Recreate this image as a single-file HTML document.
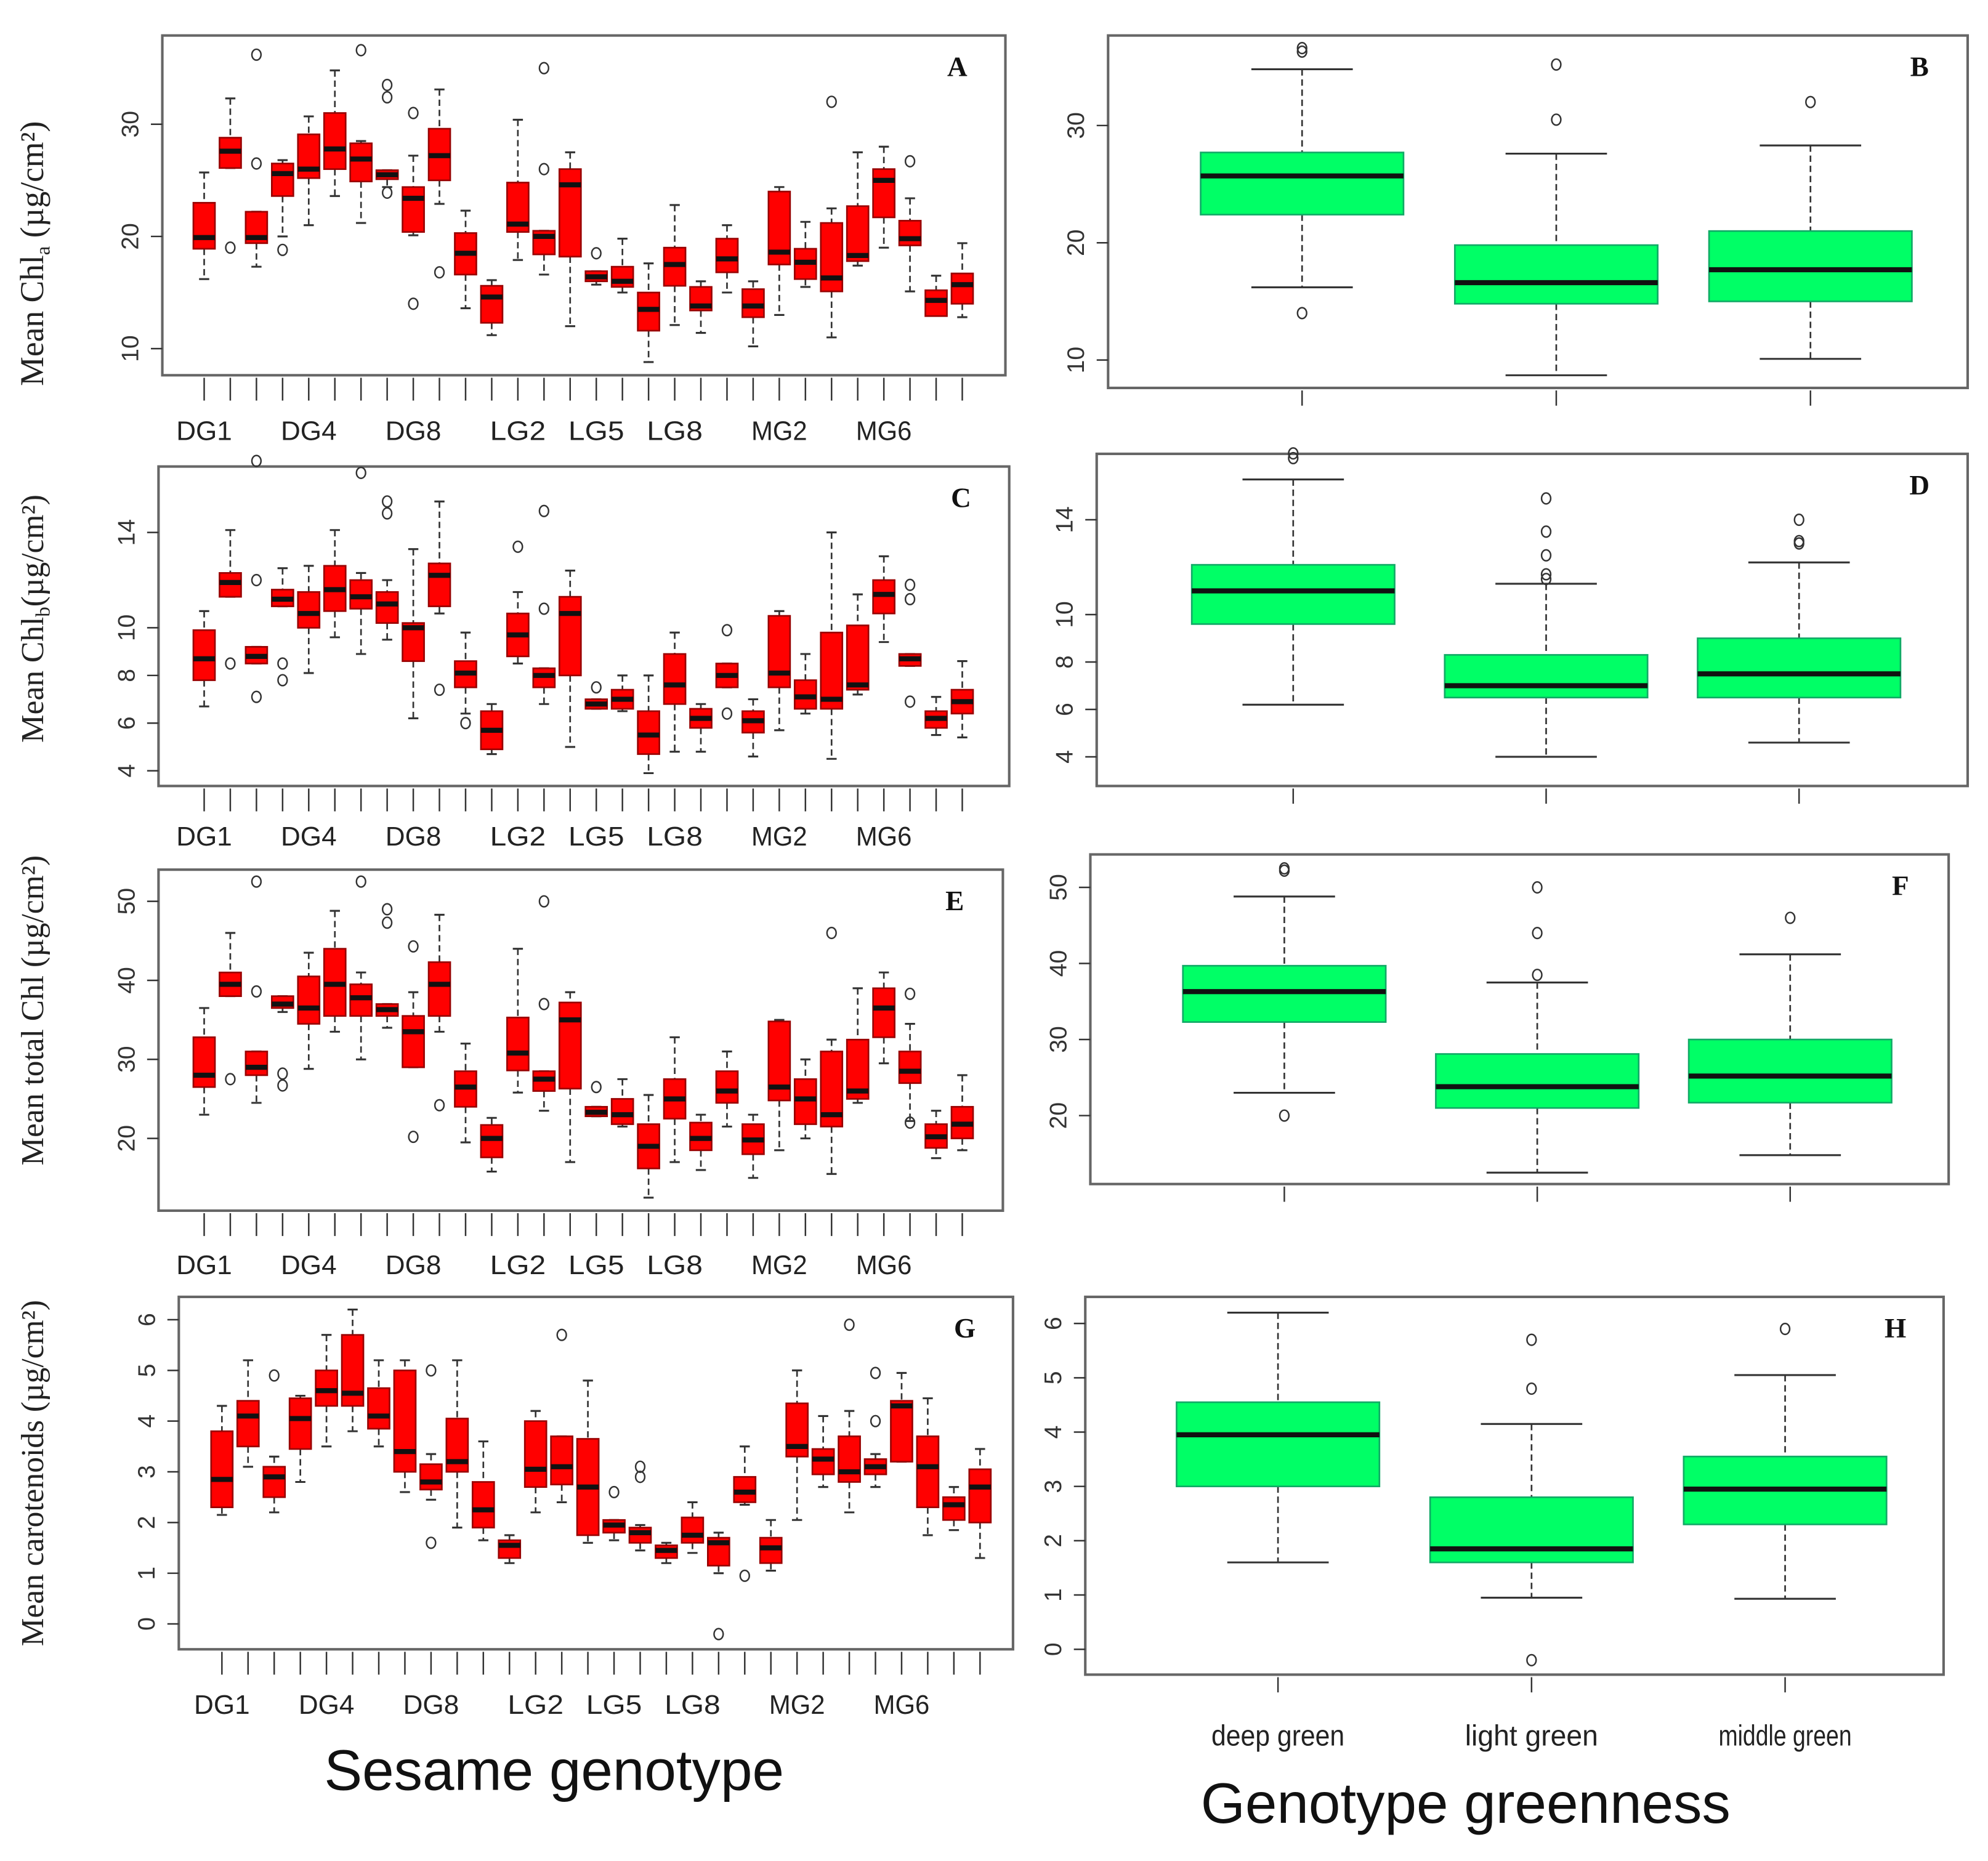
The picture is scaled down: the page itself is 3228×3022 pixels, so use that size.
<!DOCTYPE html>
<html><head><meta charset="utf-8"><style>
html,body{margin:0;padding:0;background:#fff;}
svg{display:block;}
</style></head><body>
<svg id="chart" width="3228" height="3022" viewBox="0 0 1568 1468" xmlns="http://www.w3.org/2000/svg" font-family="Liberation Sans, sans-serif">
<rect x="0" y="0" width="1568" height="1468" fill="#fff"/>
<g id="root"></g>
</svg>
<script>
// ---------- Panel A: Chl a by genotype ----------
const genoLabels = ["DG1","DG4","DG8","LG2","LG5","LG8","MG2","MG6"];
const genoLabelIdx = [0,4,8,12,15,18,22,26];
const aLow  = [16.2,26.1,17.3,20.0,21.0,23.6,21.2,24.4,20.1,22.9,13.6,11.2,17.9,16.6,12.0,15.7,15.0,8.8,12.1,11.4,15.0,10.2,13.0,15.5,11.0,17.4,19.0,15.1,13.0,12.8];
const aQ1   = [18.9,26.1,19.4,23.6,25.2,26.0,24.9,25.1,20.4,25.0,16.6,12.3,20.4,18.4,18.2,16.0,15.5,11.6,15.6,13.4,16.8,12.8,17.5,16.2,15.1,17.8,21.7,19.2,12.9,14.0];
const aMed  = [19.9,27.6,19.9,25.6,26.0,27.8,26.9,25.5,23.4,27.2,18.5,14.6,21.1,20.0,24.6,16.4,16.0,13.5,17.5,13.8,18.0,13.8,18.6,17.7,16.3,18.3,25.0,19.8,14.3,15.7];
const aQ3   = [23.0,28.8,22.2,26.5,29.1,31.0,28.3,25.9,24.4,29.6,20.3,15.6,24.8,20.5,26.0,16.9,17.3,15.0,19.0,15.5,19.8,15.3,24.0,18.9,21.2,22.7,26.0,21.4,15.2,16.7];
const aHigh = [25.7,32.3,22.2,26.8,30.7,34.8,28.5,25.9,27.2,33.1,22.3,16.1,30.4,20.5,27.5,16.9,19.8,17.6,22.8,16.0,21.0,16.0,24.4,21.3,22.5,27.5,28.0,23.4,16.5,19.4];
const aOut  = [[],[19],[36.2,26.5],[18.8],[],[],[36.6],[33.5,32.4,23.9],[31.0,14.0],[16.8],[],[],[],[35.0,26.0],[],[18.5],[],[],[],[],[],[],[],[],[32.0],[],[],[26.7],[],[]];
const aTicks = [10,20,30];

// ---------- Panel C: Chl b ----------
const cLow  = [6.7,11.3,8.5,10.9,8.1,9.6,8.9,9.5,6.2,10.6,6.4,4.7,8.5,6.8,5.0,6.6,6.5,3.9,4.8,4.8,7.5,4.6,5.7,6.4,4.5,7.2,9.4,8.4,5.5,5.4];
const cQ1   = [7.8,11.3,8.5,10.9,10.0,10.7,10.8,10.2,8.6,10.9,7.5,4.9,8.8,7.5,8.0,6.6,6.6,4.7,6.8,5.8,7.5,5.6,7.5,6.6,6.6,7.4,10.6,8.4,5.8,6.4];
const cMed  = [8.7,11.9,8.8,11.2,10.6,11.6,11.3,11.0,10.0,12.2,8.1,5.7,9.7,8.0,10.6,6.8,7.0,5.5,7.6,6.2,8.0,6.1,8.1,7.1,7.0,7.6,11.4,8.7,6.2,6.9];
const cQ3   = [9.9,12.3,9.2,11.6,11.5,12.6,12.0,11.5,10.2,12.7,8.6,6.5,10.6,8.3,11.3,7.0,7.4,6.5,8.9,6.6,8.5,6.5,10.5,7.8,9.8,10.1,12.0,8.9,6.5,7.4];
const cHigh = [10.7,14.1,9.2,12.5,12.6,14.1,12.3,12.0,13.3,15.3,9.8,6.8,11.5,8.3,12.4,7.0,8.0,8.0,9.8,6.8,8.5,7.0,10.7,8.9,14.0,11.4,13.0,8.9,7.1,8.6];
const cOut  = [[],[8.5],[17.0,12.0,7.1],[8.5,7.8],[],[],[16.5],[15.3,14.8],[],[7.4],[6.0],[],[13.4],[14.9,10.8],[],[7.5],[],[],[],[],[9.9,6.4],[],[],[],[],[],[],[11.8,11.2,6.9],[],[]];
const cTicks = [4,6,8,10,14];

// ---------- Panel E: total Chl ----------
const eLow  = [23,38,24.5,36,28.8,33.5,30,34,29,33.5,19.5,15.8,25.8,23.5,17,22.8,21.5,12.5,17,16,21.5,15,18.5,20,15.5,24.5,29.5,22.2,17.5,18.5];
const eQ1   = [26.5,38,28,36.5,34.5,35.5,35.5,35.5,29,35.5,24,17.6,28.6,26,26.3,22.8,21.8,16.2,22.5,18.5,24.5,18,24.8,21.8,21.5,25,32.8,27,18.8,20];
const eMed  = [28,39.5,29,37,36.5,39.5,37.8,36.3,33.5,39.5,26.5,20,30.8,27.5,35,23.3,23,19,25,20,26,19.8,26.5,25,23,26,36.5,28.5,20.2,21.8];
const eQ3   = [32.8,41,31,38,40.5,44,39.5,37,35.5,42.3,28.5,21.7,35.3,28.5,37.2,24,25,21.8,27.5,22,28.5,21.8,34.8,27.5,31,32.5,39,31,21.8,24];
const eHigh = [36.5,46,31,38,43.5,48.8,41,37,38.5,48.3,32,22.6,44,28.5,38.5,24,27.5,25.5,32.8,23,31,23,35,30,32.5,39,41,34.5,23.5,28];
const eOut  = [[],[27.5],[52.5,38.6],[28.2,26.7],[],[],[52.5],[49,47.3],[44.3,20.2],[24.2],[],[],[],[50,37],[],[26.5],[],[],[],[],[],[],[],[],[46],[],[],[38.3,22],[],[]];
const eTicks = [20,30,40,50];

// ---------- Panel G: carotenoids ----------
const gLow  = [2.15,3.1,2.2,2.8,3.5,3.8,3.5,2.6,2.45,1.9,1.65,1.2,2.2,2.4,1.6,1.65,1.45,1.2,1.4,1.0,2.35,1.05,2.05,2.7,2.2,2.7,3.2,1.75,1.85,1.3];
const gQ1   = [2.3,3.5,2.5,3.45,4.3,4.3,3.85,3.0,2.65,3.0,1.9,1.3,2.7,2.75,1.75,1.8,1.6,1.3,1.6,1.15,2.4,1.2,3.3,2.95,2.8,2.95,3.2,2.3,2.05,2.0];
const gMed  = [2.85,4.1,2.9,4.05,4.6,4.55,4.1,3.4,2.8,3.2,2.25,1.55,3.05,3.1,2.7,1.95,1.8,1.45,1.75,1.6,2.6,1.5,3.5,3.25,3.0,3.1,4.3,3.1,2.35,2.7];
const gQ3   = [3.8,4.4,3.1,4.45,5.0,5.7,4.65,5.0,3.15,4.05,2.8,1.65,4.0,3.7,3.65,2.05,1.9,1.55,2.1,1.7,2.9,1.7,4.35,3.45,3.7,3.25,4.4,3.7,2.5,3.05];
const gHigh = [4.3,5.2,3.3,4.5,5.7,6.2,5.2,5.2,3.35,5.2,3.6,1.75,4.2,3.7,4.8,2.05,1.95,1.6,2.4,1.8,3.5,2.05,5.0,4.1,4.2,3.35,4.95,4.45,2.7,3.45];
const gOut  = [[],[],[4.9],[],[],[],[],[],[5.0,1.6],[],[],[],[],[5.7],[],[2.6],[3.1,2.9],[],[],[-0.2],[0.95],[],[],[],[5.9],[4.95,4.0],[],[],[],[]];
const gTicks = [0,1,2,3,4,5,6];

// ---------- Greenness panels B, D, F, H ----------
const greenCats = ["deep green","light green","middle green"];
const bLow=[16.2,8.7,10.1], bQ1=[22.4,14.8,15.0], bMed=[25.7,16.6,17.7], bQ3=[27.7,19.8,21.0], bHigh=[34.8,27.6,28.3];
const bOut=[[36.6,36.3,14.0],[35.2,30.5],[32.0]];
const bTicks=[10,20,30];
const dLow=[6.2,4.0,4.6], dQ1=[9.6,6.5,6.5], dMed=[11.0,7.0,7.5], dQ3=[12.1,8.3,9.0], dHigh=[15.7,11.3,12.2];
const dOut=[[16.8,16.6],[14.9,13.5,12.5,11.7,11.5],[14.0,13.1,13.0]];
const dTicks=[4,6,8,10,14];
const fLow=[23,12.5,14.8], fQ1=[32.3,21,21.7], fMed=[36.3,23.8,25.2], fQ3=[39.7,28.1,30], fHigh=[48.8,37.5,41.2];
const fOut=[[52.5,52.2,20],[50,44,38.5],[46]];
const fTicks=[20,30,40,50];
const hLow=[1.6,0.95,0.93], hQ1=[3.0,1.6,2.3], hMed=[3.95,1.85,2.95], hQ3=[4.55,2.8,3.55], hHigh=[6.2,4.15,5.05];
const hOut=[[],[5.7,4.8,-0.2],[5.9]];
const hTicks=[0,1,2,3,4,5,6];

const NS="http://www.w3.org/2000/svg";
const root=document.getElementById('root');
function mk(tag,attrs,parent){const e=document.createElementNS(NS,tag);for(const k in attrs)e.setAttribute(k,attrs[k]);(parent||root).appendChild(e);return e;}

function drawPanel(p){
  const g=mk('g',{});
  
  
  const y=v=>p.y0+(v-p.v0)*(p.y1-p.y0)/(p.v1-p.v0);
  const x=i=>p.x0+i*p.step;
  const fr=mk('rect',{x:p.fx,y:p.fy,width:p.fw,height:p.fh,fill:'none',stroke:'#666','stroke-width':2},g);
  
  
  const ax=mk('g',{},g);
  
  
  const tx=p.fx;
  p.ticks.forEach(t=>{
    mk('line',{x1:tx-9,x2:tx,y1:y(t),y2:y(t),stroke:'#333','stroke-width':1.2},ax);
    const tl=mk('text',{x:tx-24,y:y(t),'font-size':19,fill:'#333','text-anchor':'middle',transform:`rotate(-90 ${tx-24} ${y(t)})`,'dominant-baseline':'middle'},ax);
    tl.textContent=t;
    
    
  });
  const xa=mk('g',{},g);
  
  
  const by=p.fy+p.fh;
  for(let i=0;i<p.n;i++){mk('line',{x1:x(i),x2:x(i),y1:by+2,y2:by+p.tickLen,stroke:'#333','stroke-width':1.2},xa);}
  p.labels.forEach((lb,k)=>{
    const t=mk('text',{x:x(p.labelIdx[k]),y:p.labelY,'font-size':p.labelSize,fill:'#222','text-anchor':'middle','textLength':p.labelLen?p.labelLen:'', 'lengthAdjust':'spacingAndGlyphs'},xa);
    if(!p.labelLen)t.removeAttribute('textLength');
    t.textContent=lb;
    
    
  });
  for(let i=0;i<p.n;i++){
    const bg=mk('g',{},g);
    
    
    const cx=x(i),hw=p.hw,cw=p.cw;
    mk('line',{x1:cx,x2:cx,y1:y(p.high[i]),y2:y(p.q3[i]),stroke:'#333','stroke-width':1.3,'stroke-dasharray':'5,3'},bg);
    mk('line',{x1:cx,x2:cx,y1:y(p.q1[i]),y2:y(p.low[i]),stroke:'#333','stroke-width':1.3,'stroke-dasharray':'5,3'},bg);
    mk('line',{x1:cx-cw,x2:cx+cw,y1:y(p.high[i]),y2:y(p.high[i]),stroke:'#333','stroke-width':1.5},bg);
    mk('line',{x1:cx-cw,x2:cx+cw,y1:y(p.low[i]),y2:y(p.low[i]),stroke:'#333','stroke-width':1.5},bg);
    const top=y(p.q3[i]),bot=y(p.q1[i]);
    mk('rect',{x:cx-hw,y:top,width:2*hw,height:Math.max(bot-top,1),fill:p.fill,stroke:p.stroke,'stroke-width':1.3},bg);
    mk('line',{x1:cx-hw,x2:cx+hw,y1:y(p.med[i]),y2:y(p.med[i]),stroke:'#111','stroke-width':p.medW},bg);
    p.out[i].forEach(o=>{mk('ellipse',{cx:cx,cy:y(o),rx:3.6,ry:4.3,fill:'none',stroke:'#333','stroke-width':1.2},bg);});
  }
  const L=mk('text',{x:p.fx+p.fw-38,y:p.fy+32,'font-size':22,'font-weight':'bold','font-family':'Liberation Serif, serif',fill:'#111','text-anchor':'middle'},g);
  L.textContent=p.id;
  
  
}

const left={n:30,step:20.62,hw:8.5,cw:4,tickLen:20,labelSize:21,labelLen:44,fill:'#ff0000',stroke:'#900',medW:4,labels:genoLabels,labelIdx:genoLabelIdx};
drawPanel(Object.assign({},left,{id:'A',x0:161,fx:128,fy:28,fw:665,fh:268,v0:10,y0:275,v1:30,y1:98,ticks:aTicks,labelY:347,low:aLow,q1:aQ1,med:aMed,q3:aQ3,high:aHigh,out:aOut}));
drawPanel(Object.assign({},left,{id:'C',x0:161,fx:125,fy:368,fw:671,fh:252,v0:4,y0:608,v1:14,y1:420,ticks:cTicks,labelY:667,low:cLow,q1:cQ1,med:cMed,q3:cQ3,high:cHigh,out:cOut}));
drawPanel(Object.assign({},left,{id:'E',x0:161,fx:125,fy:686,fw:666,fh:269,v0:20,y0:898,v1:50,y1:711,ticks:eTicks,labelY:1005,low:eLow,q1:eQ1,med:eMed,q3:eQ3,high:eHigh,out:eOut}));
drawPanel(Object.assign({},left,{id:'G',x0:175,fx:141,fy:1023,fw:658,fh:278,v0:0,y0:1281,v1:6,y1:1041,ticks:gTicks,labelY:1352,low:gLow,q1:gQ1,med:gMed,q3:gQ3,high:gHigh,out:gOut}));

const right={n:3,step:200.5,hw:80,cw:40,tickLen:14,labelSize:23,labelLen:0,fill:'#00ff66',stroke:'#1a6',medW:4,labels:[],labelIdx:[]};
drawPanel(Object.assign({},right,{id:'B',x0:1027,fx:874,fy:28,fw:678,fh:278,v0:10,y0:284,v1:30,y1:99,ticks:bTicks,labelY:0,low:bLow,q1:bQ1,med:bMed,q3:bQ3,high:bHigh,out:bOut}));
drawPanel(Object.assign({},right,{id:'D',x0:1020,step:199.5,fx:865,fy:358,fw:687,fh:262,v0:4,y0:597,v1:14,y1:410,ticks:dTicks,labelY:0,low:dLow,q1:dQ1,med:dMed,q3:dQ3,high:dHigh,out:dOut}));
drawPanel(Object.assign({},right,{id:'F',x0:1013,step:199.5,fx:860,fy:674,fw:677,fh:260,v0:20,y0:880,v1:50,y1:700,ticks:fTicks,labelY:0,low:fLow,q1:fQ1,med:fMed,q3:fQ3,high:fHigh,out:fOut}));
drawPanel(Object.assign({},right,{id:'H',x0:1008,step:200,fx:856,fy:1023,fw:677,fh:298,v0:0,y0:1301,v1:6,y1:1044,ticks:hTicks,labelY:1377,labelLen:105,labels:greenCats,labelIdx:[0,1,2],low:hLow,q1:hQ1,med:hMed,q3:hQ3,high:hHigh,out:hOut}));

const yt=[["Mean Chl","a"," (\u00b5g/cm\u00b2)",200,26],["Mean Chl","b","(\u00b5g/cm\u00b2)",488,25],["Mean total Chl (\u00b5g/cm\u00b2)","","",797,25],["Mean carotenoids (\u00b5g/cm\u00b2)","","",1162,25]];
yt.forEach(a=>{
  const t=mk('text',{x:34,y:a[3],'font-size':a[4],'font-family':'Liberation Serif, serif',fill:'#222','text-anchor':'middle',transform:`rotate(-90 34 ${a[3]})`});
  
  
  t.appendChild(document.createTextNode(a[0]));
  if(a[1]){const s=mk('tspan',{'font-size':16,dy:5},t);s.textContent=a[1];const s2=mk('tspan',{dy:-5},t);s2.textContent=a[2];}
});
const t1=mk('text',{x:437,y:1412,'font-size':45,fill:'#111','text-anchor':'middle'});
t1.textContent='Sesame genotype';


const t2=mk('text',{x:1156,y:1438,'font-size':45,fill:'#111','text-anchor':'middle'});
t2.textContent='Genotype greenness';


</script>
</body></html>
